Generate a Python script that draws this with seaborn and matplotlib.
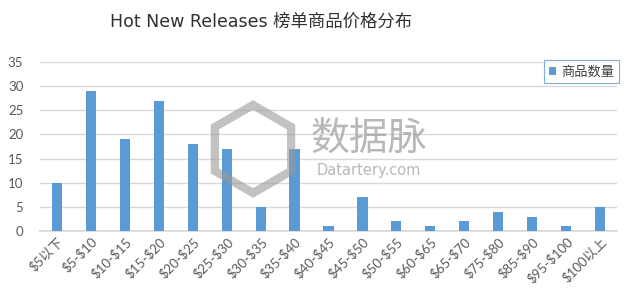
import matplotlib
matplotlib.use("Agg")
import matplotlib.pyplot as plt
import seaborn as sns
import pandas as pd
from matplotlib.patches import RegularPolygon

categories = ["$5以下", "$5-$10", "$10-$15", "$15-$20", "$20-$25", "$25-$30",
              "$30-$35", "$35-$40", "$40-$45", "$45-$50", "$50-$55", "$60-$65",
              "$65-$70", "$75-$80", "$85-$90", "$95-$100", "$100以上"]
counts = [10, 29, 19, 27, 18, 17, 5, 17, 1, 7, 2, 1, 2, 4, 3, 1, 5]
series_name = "商品数量"
title = "Hot New Releases 榜单商品价格分布"
yticks = [0, 5, 10, 15, 20, 25, 30, 35]

sns.set_theme(style="white")
plt.rcParams["font.family"] = ["Lato", "Noto Sans CJK SC", "DejaVu Sans"]

df = pd.DataFrame({"区间": categories, series_name: counts, "series": series_name})

fig = plt.figure(figsize=(6.4, 3.01), dpi=100)
ax = fig.add_axes([40/640, 1 - 231/301, (617-40)/640, (231-62)/301])

sns.barplot(data=df, x="区间", y=series_name, hue="series", palette=["#5B9BD5"],
            width=0.3, ax=ax, legend=True, saturation=1, linewidth=0, zorder=3)

ax.set_ylim(0, 35)
ax.set_yticks(yticks)
ax.set_xlim(-0.5, len(categories) - 0.5)
ax.yaxis.grid(True, color="#d9d9d9", linewidth=1, zorder=0)
ax.set_axisbelow(True)
for s in ["top", "right", "left"]:
    ax.spines[s].set_visible(False)
ax.spines["bottom"].set_color("#d9d9d9")
ax.set_xlabel("")
ax.set_ylabel("")
ax.tick_params(axis="y", labelsize=9.5, colors="#595959", length=0, pad=12)
ax.tick_params(axis="x", labelsize=9.5, colors="#595959", length=0, pad=3)
ax.set_xticks(range(len(categories)))
ax.set_xticklabels([c.replace("$", r"\$") for c in categories],
                   rotation=45, ha="right", rotation_mode="anchor")

leg = ax.legend(loc="upper right", bbox_to_anchor=(626/640, 1 - 53/301),
                bbox_transform=fig.transFigure, frameon=True, fontsize=9.5,
                handlelength=0.5, handleheight=0.5, handletextpad=0.4,
                borderpad=0.4, fancybox=False)
leg.get_frame().set_edgecolor("#5B9BD5")
leg.get_frame().set_linewidth(0.8)
for t in leg.get_texts():
    t.set_color("#404040")

fig.text(261/640, 1 - 22/301, title, ha="center", va="center",
         fontsize=12.5, color="#303030",
         family=["DejaVu Sans", "Noto Sans CJK SC"])

# watermark
hexagon = RegularPolygon((253, 301 - 149), numVertices=6, radius=44,
                         orientation=0, transform=None, fill=False,
                         edgecolor="#9a9a9a", linewidth=6, alpha=0.6, zorder=10)
fig.patches.append(hexagon)
fig.text(310/640, 1 - 140/301, "数据脉", ha="left", va="center", fontsize=28,
         color="#9a9a9a", alpha=0.7, family=["Noto Sans CJK SC"])
fig.text(369/640, 1 - 171/301, "Datartery.com", ha="center", va="center",
         fontsize=10.5, color="#9a9a9a", alpha=0.7, family=["DejaVu Sans"])

fig.savefig("out.png", dpi=100)
